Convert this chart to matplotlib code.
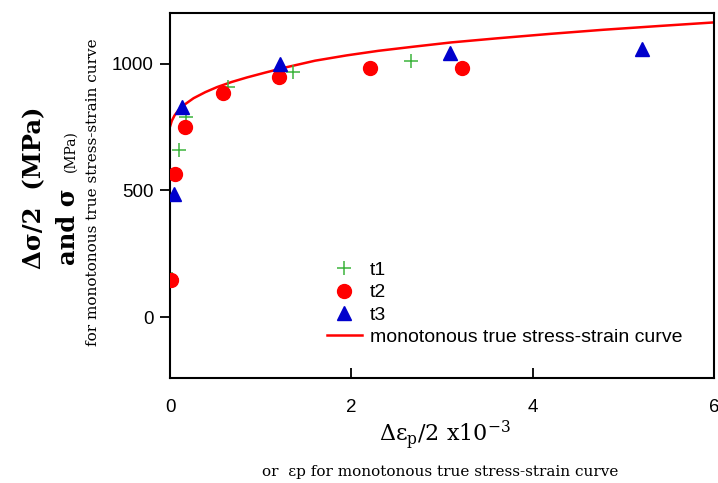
import matplotlib
matplotlib.use('Agg')
import matplotlib.pyplot as plt

plt.rcParams['mathtext.fontset'] = 'dejavuserif'

# t1, t2, t3 test points (x in 1e-3, y in MPa)
t1_x = [0.02, 0.10, 0.18, 0.64, 1.36, 2.66]
t1_y = [150, 660, 789, 907, 969, 1012]
t2_x = [0.01, 0.05, 0.16, 0.58, 1.20, 2.21, 3.22]
t2_y = [146, 566, 752, 885, 949, 982, 985]
t3_x = [0.04, 0.13, 1.21, 3.09, 5.21]
t3_y = [487, 831, 999, 1041, 1060]

# monotonous true stress-strain curve
mono_x = [0, 0.02, 0.05, 0.09, 0.165, 0.26, 0.39, 0.52, 0.68, 0.85, 1.05, 1.27,
          1.6, 1.95, 2.3, 2.68, 3.1, 3.6, 4.2, 4.78, 5.4, 6.0]
mono_y = [752, 775, 796, 815, 840, 864, 888, 908, 928, 946, 965, 985,
          1012, 1033, 1051, 1067, 1084, 1100, 1118, 1134, 1149, 1163]

fig = plt.figure(figsize=(7.18, 4.83), dpi=100)
ax = fig.add_axes([0.2368, 0.2174, 0.7576, 0.7556])

ax.plot(mono_x, mono_y, color='#ff0000', lw=1.8, label='monotonous true stress-strain curve', zorder=2)
ax.plot(t1_x, t1_y, ls='none', marker='+', ms=9.5, mew=1.1, color='#3cb43c', label='t1', zorder=3)
ax.plot(t2_x, t2_y, ls='none', marker='o', ms=10, color='#ff0000', label='t2', zorder=3)
ax.plot(t3_x, t3_y, ls='none', marker='^', ms=10, color='#0000cc', label='t3', zorder=3)

ax.set_xlim(0, 6)
ax.set_ylim(-240, 1200)
ax.set_xticks([0, 2, 4, 6])
ax.set_yticks([0, 500, 1000])
ax.tick_params(axis='y', direction='out', length=7, width=1.3, labelsize=13.5, pad=5)
ax.tick_params(axis='x', direction='in', length=7, width=1.3, labelsize=13.5, pad=15)
for lab in ax.get_xticklabels() + ax.get_yticklabels():
    lab.set_fontfamily('Liberation Sans')
for s in ax.spines.values():
    s.set_linewidth(1.5)

h, l = ax.get_legend_handles_labels()
order = [1, 2, 3, 0]
ax.legend([h[i] for i in order], [l[i] for i in order], frameon=False,
          loc='upper left', bbox_to_anchor=(0.274, 0.3405), prop={'family': 'Liberation Sans', 'size': 14},
          handlelength=1.8, handletextpad=0.4, labelspacing=0.24, borderaxespad=0)

serif = 'DejaVu Serif'
fig.text(0.057, 0.612, 'Δσ/2  (MPa)', rotation=90, rotation_mode='anchor', ha='center', va='baseline',
         fontsize=17.5, fontweight='bold', family=serif)
fig.text(0.1045, 0.53, 'and σ', rotation=90, rotation_mode='anchor', ha='center', va='baseline',
         fontsize=17.5, fontweight='bold', family=serif)
fig.text(0.1045, 0.687, '(MPa)', rotation=90, rotation_mode='anchor', ha='center', va='baseline',
         fontsize=10, family=serif)
fig.text(0.135, 0.602, 'for monotonous true stress-strain curve', rotation=90, rotation_mode='anchor',
         ha='center', va='baseline', fontsize=11, family=serif)

fig.text(0.619, 0.085, r'Δε$_{\mathrm{p}}$/2 x10$^{-3}$', ha='center', va='baseline',
         fontsize=16, family=serif)
fig.text(0.613, 0.023, 'or  εp for monotonous true stress-strain curve', ha='center', va='center',
         fontsize=11, family=serif)

fig.savefig('out.png', dpi=100)
